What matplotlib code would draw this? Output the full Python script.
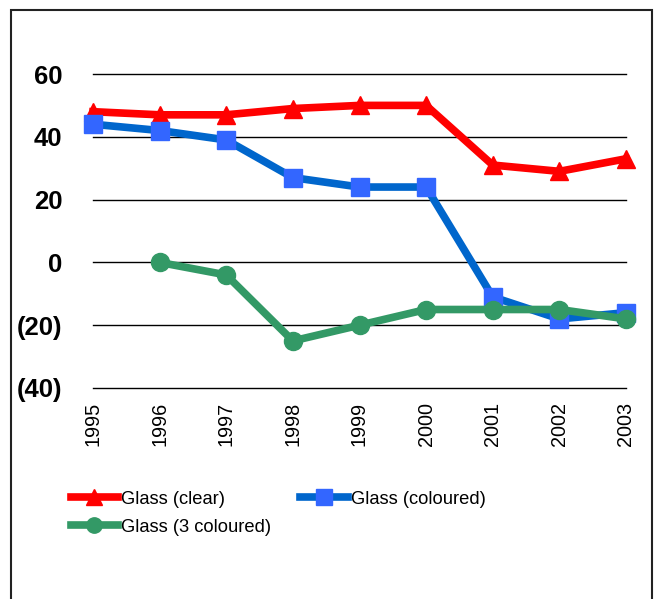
import matplotlib
matplotlib.use("Agg")
import matplotlib.pyplot as plt
from matplotlib.patches import Rectangle
import numpy as np

years = [1995, 1996, 1997, 1998, 1999, 2000, 2001, 2002, 2003]
clear = [48, 47, 47, 49, 50, 50, 31, 29, 33]
coloured = [44, 42, 39, 27, 24, 24, -11, -18, -16]
three_years = [1996, 1997, 1998, 1999, 2000, 2001, 2002, 2003]
three_coloured = [0, -4, -25, -20, -15, -15, -15, -18]
yticks = [-40, -20, 0, 20, 40, 60]
ytick_labels = ["(40)", "(20)", "0", "20", "40", "60"]

plt.rcParams['font.family'] = ['Liberation Sans', 'DejaVu Sans']

fig = plt.figure(figsize=(6.55, 5.99), dpi=100)
fig.patches.append(Rectangle((11/655, -0.05), (652-11)/655, 1 - 10/599 + 0.05,
                             transform=fig.transFigure, fill=False,
                             edgecolor='#222222', linewidth=1.5))
ax = fig.add_axes([93/655, 1-388/599, (626-93)/655, (388-74)/599])

l1, = ax.plot(years, clear, color='#FF0000', lw=5.5, marker='^', ms=13,
              markerfacecolor='#FF0000', markeredgecolor='#FF0000',
              label='Glass (clear)', zorder=3, clip_on=False)
l2, = ax.plot(years, coloured, color='#0066CC', lw=5.5, marker='s', ms=13,
              markerfacecolor='#3366FF', markeredgecolor='#3366FF',
              label='Glass (coloured)', zorder=3, clip_on=False)
l3, = ax.plot(three_years, three_coloured, color='#339966', lw=5.5, marker='o', ms=13,
              markerfacecolor='#339966', markeredgecolor='#339966',
              label='Glass (3 coloured)', zorder=4, clip_on=False)

ax.set_xlim(1995, 2003)
ax.set_ylim(-40, 60)
ax.set_yticks(yticks)
ax.set_yticklabels(ytick_labels, fontsize=18.5, fontweight='bold')
ax.set_xticks(years)
ax.set_xticklabels([str(y) for y in years], rotation=90, fontsize=14.3)
ax.tick_params(axis='y', length=0, pad=22)
ax.tick_params(axis='x', length=0, pad=10)
ax.grid(axis='y', color='black', lw=1)
for gl in ax.get_ygridlines():
    gl.set_clip_on(False)
ax.set_axisbelow(True)
for s in ax.spines.values():
    s.set_visible(False)

fig.legend(handles=[l1, l3, l2], labels=['Glass (clear)', 'Glass (3 coloured)', 'Glass (coloured)'],
           ncol=2, loc='upper left', bbox_to_anchor=(54/655, 1-474/599), frameon=False,
           fontsize=13.2, handlelength=2.6, handletextpad=0.15, columnspacing=1.6,
           labelspacing=0.62, markerscale=0.85)

fig.savefig('out.png', dpi=100)
